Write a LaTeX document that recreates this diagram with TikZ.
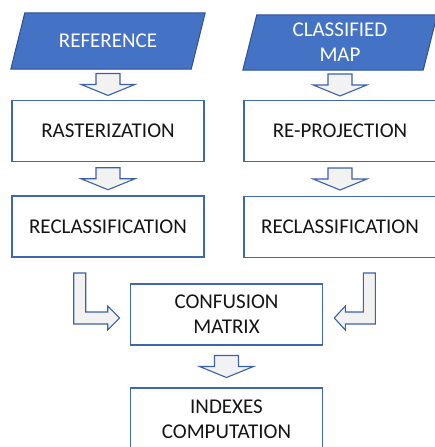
\documentclass[tikz,border=0pt]{standalone}
\usepackage{fontspec}
\setmainfont{Carlito}
\usetikzlibrary{calc,positioning,backgrounds}
\definecolor{boxc}{HTML}{4066AC}
\definecolor{inpc}{HTML}{4472C4}
\definecolor{inpd}{HTML}{2F528F}
\definecolor{arrc}{HTML}{3A62A4}
\definecolor{arrf}{HTML}{F2F2F2}
\definecolor{txtc}{HTML}{141414}
\tikzset{
  bx/.style={rectangle,draw=boxc,line width=1.6pt,minimum width=192pt,minimum height=61pt,align=center,text=txtc,font=\fontsize{21}{25}\selectfont},
  inp/.style={rectangle,minimum width=180pt,minimum height=56pt,align=center,text=white,font=\fontsize{21}{25}\selectfont},
  inpf/.style={draw=inpd,line width=1pt,fill=inpc},
  blk/.style={draw=arrc,line width=1.1pt,fill=arrf,line join=miter},
  dwn/.pic={\path[blk] (-12,-11) -- (12,-11) -- (12,0) -- (27,0) -- (0,11) -- (-27,0) -- (-12,0) -- cycle;}
}

\begin{document}
\begin{tikzpicture}[x=1pt,y=-1pt]
\useasboundingbox (0,0) rectangle (435,447);
\clip (0,0) rectangle (435,447);
\node[inp] (ref) at (108,41) {REFERENCE};
\node[inp,minimum height=55pt] (cmap) at (340,42.5) {CLASSIFIED\\MAP};
\node[bx] (rast) at (108,131) {RASTERIZATION};
\node[bx] (reproj) at (340,131) {RE-PROJECTION};
\node[bx] (recla) at (108,226.5) {RECLASSIFICATION};
\node[bx] (reclb) at (340,227) {RECLASSIFICATION};
\node[bx] (conf) at (226.5,314.5) {CONFUSION\\MATRIX};
\node[bx,minimum height=63pt] (idx) at (226.5,419.5) {INDEXES\\COMPUTATION};
\begin{scope}[on background layer]
\foreach \n in {ref,cmap}
  \path[inpf] ($(\n.south west)+(-7,0)$) -- ($(\n.north west)+(7,0)$)
    -- ($(\n.north east)+(7,0)$) -- ($(\n.south east)+(-7,0)$) -- cycle;
\end{scope}
\pic at ($(ref.south)!0.5!(rast.north)$) {dwn};
\pic at ($(cmap.south)!0.5!(reproj.north)$) {dwn};
\pic at ($(rast.south)!0.5!(recla.north)$) {dwn};
\pic at ($(reproj.south)!0.5!(reclb.north)$) {dwn};
\pic at ($(conf.south)!0.5!(idx.north)$) {dwn};
\path[blk] ($(conf.west)+(-10,3.5)$) -- ++(-12,12) -- ++(0,-6) -- ++(-34,0) -- ++(0,-51)
  -- ++(12,0) -- ++(0,39) -- ++(22,0) -- ++(0,-6) -- cycle;
\path[blk] ($(conf.east)+(11,3.5)$) -- ++(11,12) -- ++(0,-6) -- ++(30,0) -- ++(0,-51)
  -- ++(-12,0) -- ++(0,39) -- ++(-18,0) -- ++(0,-6) -- cycle;
\end{tikzpicture}
\end{document}
